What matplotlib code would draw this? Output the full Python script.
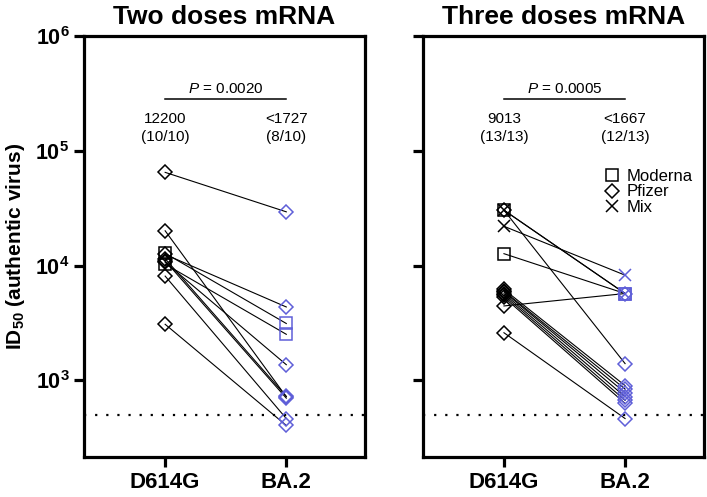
import matplotlib
matplotlib.use("Agg")
import matplotlib.pyplot as plt
from matplotlib.lines import Line2D

plt.rcParams['font.family'] = ['Liberation Sans', 'DejaVu Sans']
plt.rcParams['mathtext.fontset'] = 'custom'
plt.rcParams['mathtext.rm'] = 'Liberation Sans'
plt.rcParams['mathtext.it'] = 'Liberation Sans:italic'
plt.rcParams['mathtext.bf'] = 'Liberation Sans:bold'

variants = ['D614G', 'BA.2']
lod = 500

# two doses: (vaccine, D614G, BA.2)
two_vax = ['P', 'P', 'M', 'M', 'P', 'P', 'P', 'P', 'P', 'P']
two_d614g = [64900, 20100, 12800, 10300, 12500, 10700, 11500, 11000, 8100, 3080]
two_ba2 = [29400, 720, 3130, 2520, 4360, 1370, 726, 700, 465, 405]

# three doses
three_vax = ['M', 'P', 'X', 'X', 'M', 'P', 'P', 'P', 'P', 'P', 'P', 'P', 'P']
three_d614g = [30400, 30400, 30400, 22000, 12700, 4450, 2600, 6200, 6000, 5900, 5700, 5500, 5300]
three_ba2 = [5710, 1400, 5710, 8250, 5710, 5710, 465, 900, 840, 780, 720, 670, 630]

titles = ['Two doses mRNA', 'Three doses mRNA']
pvals = ['0.0020', '0.0005']
gmt_text = [['12200\n(10/10)', '<1727\n(8/10)'], ['9013\n(13/13)', '<1667\n(12/13)']]

blue = '#5f5fd8'
mk = {'M': dict(marker='s', ms=8), 'P': dict(marker='D', ms=6.8), 'X': dict(marker='x', ms=9)}

fig = plt.figure(figsize=(7.07, 4.97), dpi=100)
ax1 = fig.add_axes([0.1188, 0.0805, 0.3975, 0.847])
ax2 = fig.add_axes([0.598, 0.0805, 0.3975, 0.847])

panels = [(ax1, two_vax, two_d614g, two_ba2), (ax2, three_vax, three_d614g, three_ba2)]

for i, (ax, vax, a, b) in enumerate(panels):
    for v, y0, y1 in zip(vax, a, b):
        ax.plot([0, 1], [y0, y1], color='black', lw=0.8, zorder=2)
        ax.plot(0, y0, linestyle='none', mfc='none', mec='black', mew=1.1, zorder=3, **mk[v])
        ax.plot(1, y1, linestyle='none', mfc='none', mec=blue, mew=1.1, zorder=3, **mk[v])
    ax.axhline(lod, color='black', ls=(0, (1, 4)), lw=1.6, zorder=1)
    ax.set_yscale('log')
    ax.set_ylim(215, 1e6)
    ax.set_xlim(-0.67, 1.65)
    ax.set_xticks([0, 1])
    ax.set_xticklabels(variants, fontsize=16, fontweight='bold')
    ax.set_yticks([1e3, 1e4, 1e5, 1e6])
    ax.minorticks_off()
    if i == 0:
        ax.set_yticklabels([r'$\mathbf{10^{%d}}$' % k for k in [3, 4, 5, 6]], fontsize=15.5)
        ax.set_ylabel(r'ID$_{\mathbf{50}}$ (authentic virus)', fontsize=15, fontweight='bold', labelpad=6)
    else:
        ax.set_yticklabels([])
    for s in ax.spines.values():
        s.set_linewidth(2.3)
    ax.tick_params(width=2.3, length=7)
    ax.set_title(titles[i], fontsize=19, fontweight='bold', pad=9)
    # significance bar
    ax.plot([0, 1], [282000, 282000], color='black', lw=1.1)
    ax.text(0.5, 345000, r'$\it{P}$ = ' + pvals[i], ha='center', va='center', fontsize=11)
    ax.text(0, 158000, gmt_text[i][0], ha='center', va='center', fontsize=11, linespacing=1.35)
    ax.text(1, 158000, gmt_text[i][1], ha='center', va='center', fontsize=11, linespacing=1.35)

handles = [Line2D([], [], linestyle='none', mfc='none', mec='black', mew=1.1, **mk[k]) for k in ['M', 'P', 'X']]
ax2.legend(handles, ['Moderna', 'Pfizer', 'Mix'], loc='upper left', bbox_to_anchor=(0.642, 0.685),
           frameon=False, fontsize=12, handlelength=1.0, handletextpad=0.4, labelspacing=0.05,
           borderpad=0, borderaxespad=0)

fig.savefig('out.png', dpi=100)
